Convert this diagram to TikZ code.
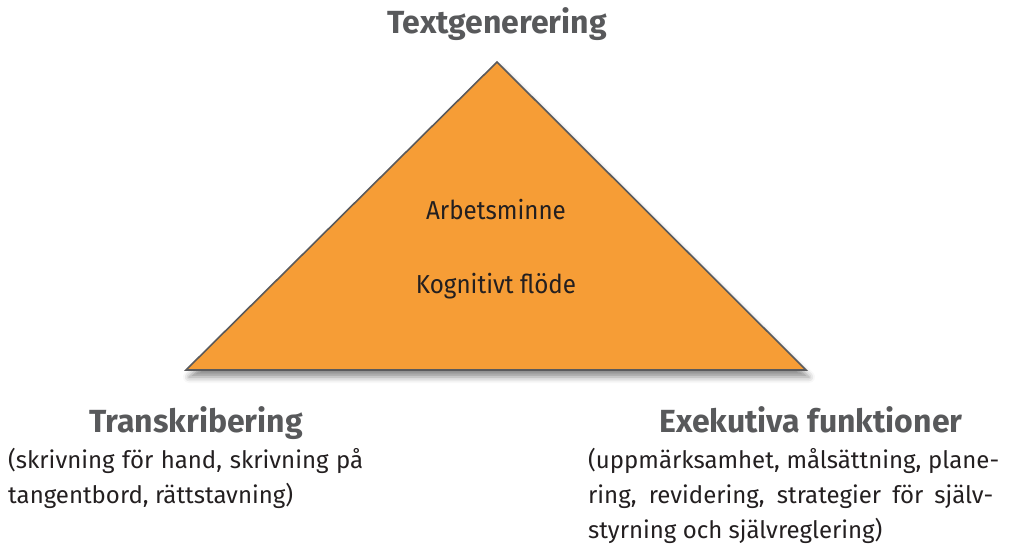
\documentclass[tikz,border=0pt]{standalone}
\usepackage{fontspec}
\setmainfont{Fira Sans}
\usetikzlibrary{shadows.blur}
\definecolor{tri}{HTML}{F69D36}
\definecolor{edge}{HTML}{5A5A5C}
\definecolor{head}{HTML}{58595B}
\definecolor{body}{HTML}{231F20}
\newcommand{\jline}[2]{\hbox to #1pt{#2}}
\begin{document}
\begin{tikzpicture}[x=1pt,y=-1pt,
  title/.style={font=\fontsize{32}{36}\selectfont\bfseries, text=head, inner sep=0pt, anchor=base},
  sub/.style={font=\fontsize{24}{35}\selectfont, text=body, inner sep=0pt, anchor=base west},
  inside/.style={font=\fontsize{26}{30}\selectfont, text=body, inner sep=0pt, anchor=base, xscale=0.93, transform shape}]
\useasboundingbox (0,0) rectangle (1013,548);
\coordinate (apex) at (497,62);
\coordinate (bl) at (186,370);
\coordinate (br) at (806,370);
\fill[black!45, blur shadow={shadow xshift=3pt, shadow yshift=-7pt, shadow blur radius=6pt, shadow opacity=45}]
  (apex) -- (br) -- (bl) -- cycle;
\filldraw[fill=tri, draw=edge, line width=1.6pt, line join=miter] (apex) -- (br) -- (bl) -- cycle;
\node[inside] (am) at (496,220) {Arbetsminne};
\node[inside] (kf) at (496,294) {Kognitivt flöde};
\node[title] (tg) at (497,34) {Textgenerering};
\node[title] (tr) at (196,432) {Transkribering};
\node[title] (ef) at (811,432) {Exekutiva funktioner};
\node[sub] (trs1) at (8,468) {\jline{355}{(skrivning för hand, skrivning på}};
\node[sub] (trs2) at (8,503) {tangentbord, rättstavning)};
\node[sub] (efs1) at (588,468) {\jline{411}{(uppmärksamhet, målsättning, plane-}};
\node[sub] (efs2) at (588,503) {\jline{405}{ring, revidering, strategier för själv-}};
\node[sub] (efs3) at (588,538) {styrning och självreglering)};
\end{tikzpicture}
\end{document}
